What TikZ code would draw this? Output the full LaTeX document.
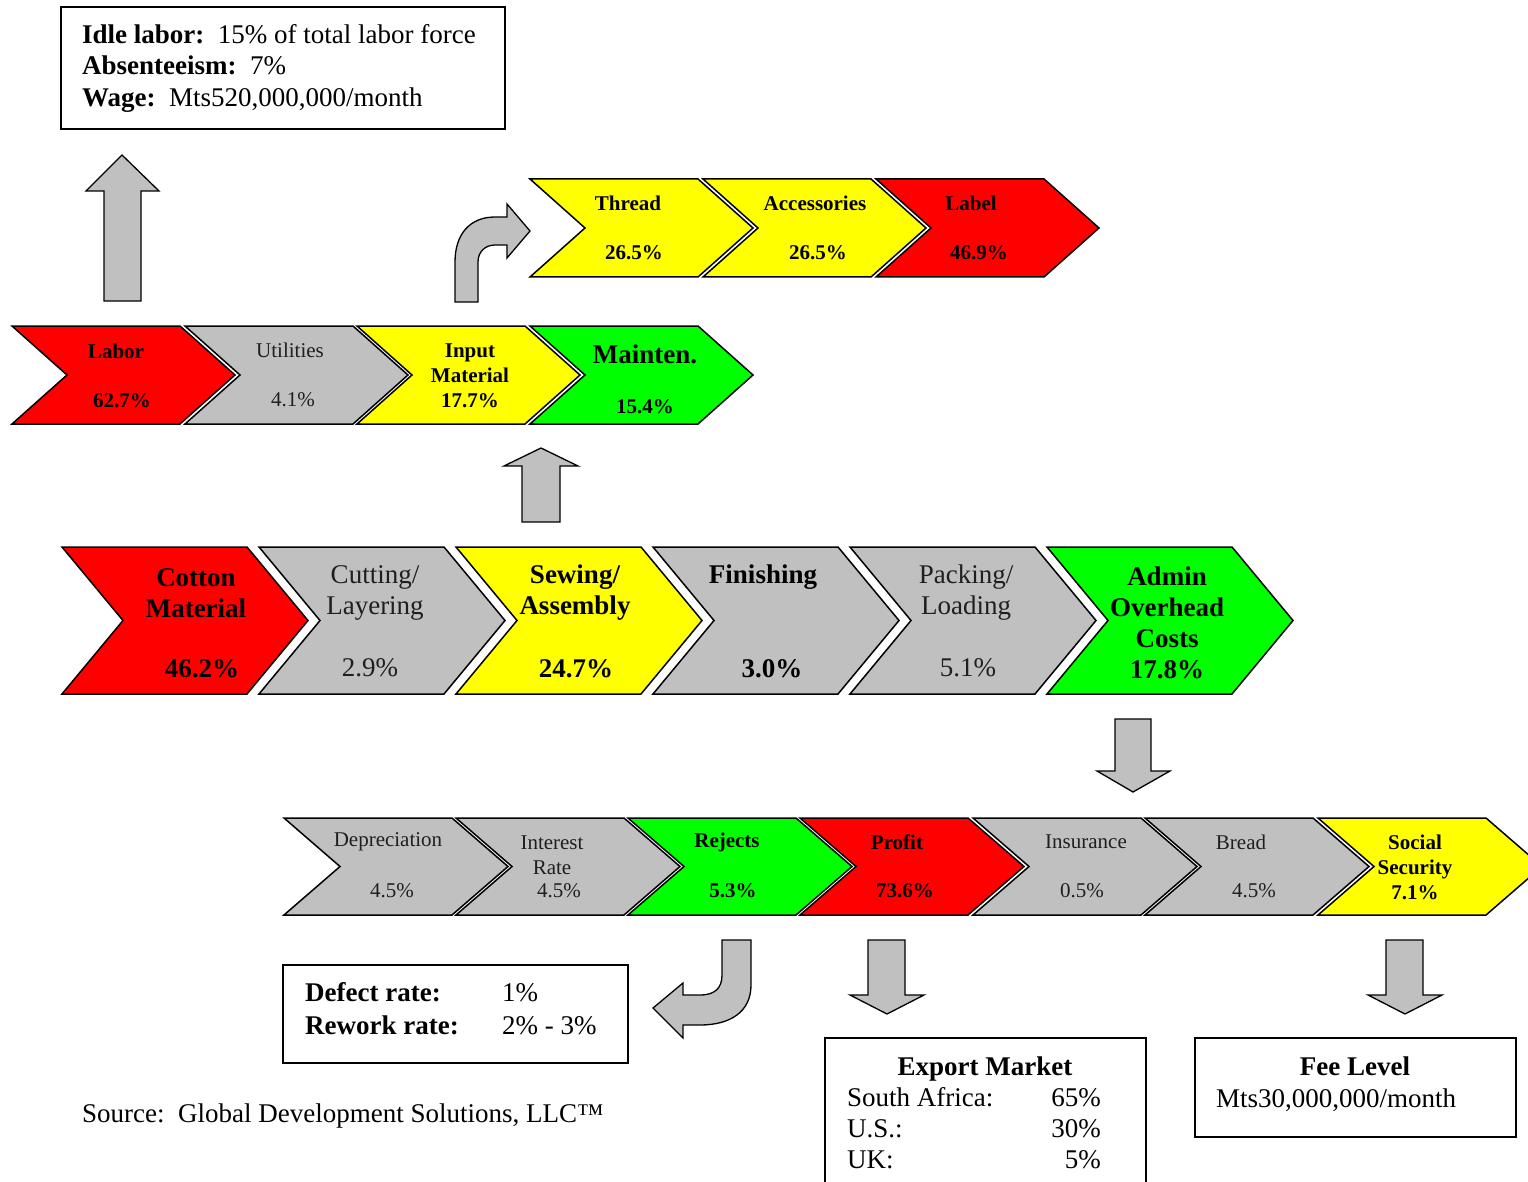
\documentclass[tikz,border=0pt]{standalone}
\usepackage{fontspec}
\setmainfont{Liberation Serif}
\definecolor{cRed}{RGB}{255,0,0}
\definecolor{cGray}{RGB}{192,192,192}
\definecolor{cYel}{RGB}{255,255,0}
\definecolor{cGrn}{RGB}{0,255,0}
\newcommand{\chev}[7]{%
 \draw[chevbox, fill=#7] (#2,#3) -- ++(#4,0) -- ++(#6,#5/2) -- ++(-#6,#5/2) -- ++(-#4,0) -- ++(#6,-#5/2) -- cycle;
 \coordinate (#1) at ({#2+(#4+#6)/2},{#3+#5/2});}
\begin{document}
\begin{tikzpicture}[x=1pt,y=-1pt,
  chevbox/.style={draw=black,line width=1.5pt,line join=miter},
  blk/.style={draw=black,fill=cGray,line width=1.3pt,line join=miter},
  infobox/.style={draw=black,line width=1.3pt},
  sm/.style={font=\fontsize{21}{25}\selectfont,align=center,inner sep=0pt,text=black!88},
  smb/.style={font=\fontsize{21}{25}\selectfont\bfseries,align=center,inner sep=0pt},
  bg/.style={font=\fontsize{27}{31}\selectfont,align=center,inner sep=0pt,text=black!88},
  bgb/.style={font=\fontsize{27}{31}\selectfont\bfseries,align=center,inner sep=0pt},
  txt/.style={font=\fontsize{27}{32}\selectfont,inner sep=0pt}]
\useasboundingbox (0,0) rectangle (1528,1182);
\clip (0,0) rectangle (1528,1182);

% ---------- top info box ----------
\draw[infobox] (61,7) rectangle (505,129);
\node[txt,anchor=base west] (idle) at (82,44) {\textbf{Idle labor:}\ \ 15\% of total labor force};
\node[txt,anchor=base west] (abs) at (82,75) {\textbf{Absenteeism:}\ \ 7\%};
\node[txt,anchor=base west] (wage) at (82,107) {\textbf{Wage:}\ \ Mts520,000,000/month};

% ---------- arrows top ----------
\draw[blk] (104,301) -- (104,191) -- (86,191) -- (122,155) -- (159,191) -- (141,191) -- (141,301) -- cycle;
\draw[blk] (455,302) -- (455,262) .. controls (455,234) and (470,217) .. (495,217) -- (507,217) -- (507,204)
  -- (530,231) -- (507,258) -- (507,245) -- (495,245) .. controls (485,245) and (478,252) .. (478,262) -- (478,302) -- cycle;

% ---------- Thread row ----------
\chev{thread}{530}{179}{168}{98}{55}{cYel}
\chev{acc}{703}{179}{168}{98}{55}{cYel}
\chev{label}{876}{179}{168}{98}{55}{cRed}
\node[smb] (threadT) at (628,203) {Thread};
\node[smb] (threadP) at (634,253) {26.5\%};
\node[smb] (accT) at (815,203) {Accessories};
\node[smb] (accP) at (818,253) {26.5\%};
\node[smb] (labelT) at (971,203) {Label};
\node[smb] (labelP) at (979,253) {46.9\%};

% ---------- Labor row ----------
\chev{labor}{12}{326}{168}{98}{55}{cRed}
\chev{util}{185}{326}{168}{98}{55}{cGray}
\chev{input}{357}{326}{168}{98}{55}{cYel}
\chev{maint}{530}{326}{168}{98}{55}{cGrn}
\node[smb] (laborT) at (116,351) {Labor};
\node[smb] (laborP) at (122,401) {62.7\%};
\node[sm] (utilT) at (290,350) {Utilities};
\node[sm] (utilP) at (293,400) {4.1\%};
\node[smb] (inputT) at (470,376) {Input\\Material\\17.7\%};
\node[bgb] (maintT) at (645,354) {Mainten.};
\node[smb] (maintP) at (645,407) {15.4\%};

% ---------- arrow up from sewing ----------
\draw[blk] (522,522) -- (522,466) -- (504,466) -- (541,448) -- (578,466) -- (560,466) -- (560,522) -- cycle;

% ---------- main row ----------
\chev{cotton}{62}{547}{185}{147}{61}{cRed}
\chev{cut}{259}{547}{185}{147}{61}{cGray}
\chev{sew}{456}{547}{185}{147}{61}{cYel}
\chev{fin}{653}{547}{185}{147}{61}{cGray}
\chev{pack}{850}{547}{185}{147}{61}{cGray}
\chev{admin}{1047}{547}{185}{147}{61}{cGrn}
\node[bgb] (cottonT) at (196,593) {Cotton\\Material};
\node[bgb] (cottonP) at (202,669) {46.2\%};
\node[bg] (cutT) at (375,593) {Cutting/\\Layering};
\node[bg] (cutP) at (370,668) {2.9\%};
\node[bgb] (sewT) at (575,593) {Sewing/\\Assembly};
\node[bgb] (sewP) at (576,669) {24.7\%};
\node[bgb] (finT) at (763,577) {Finishing};
\node[bgb] (finP) at (772,669) {3.0\%};
\node[bg] (packT) at (966,593) {Packing/\\Loading};
\node[bg] (packP) at (968,668) {5.1\%};
\node[bgb] (adminT) at (1167,623) {Admin\\Overhead\\Costs\\17.8\%};

% ---------- arrow down from admin ----------
\draw[blk] (1115,719) -- (1151,719) -- (1151,771) -- (1170,771) -- (1133,792) -- (1097,771) -- (1115,771) -- cycle;

% ---------- bottom row ----------
\chev{dep}{284}{818}{168}{97}{56}{cGray}
\chev{int}{456}{818}{168}{97}{56}{cGray}
\chev{rej}{628}{818}{168}{97}{56}{cGrn}
\chev{prof}{800}{818}{168}{97}{56}{cRed}
\chev{ins}{973}{818}{168}{97}{56}{cGray}
\chev{bread}{1145}{818}{168}{97}{56}{cGray}
\chev{soc}{1318}{818}{168}{97}{56}{cYel}
\node[sm] (depT) at (388,842) {Depreciation};
\node[sm] (depP) at (392,891) {4.5\%};
\node[sm] (intT) at (552,855) {Interest\\Rate};
\node[sm] (intP) at (559,891) {4.5\%};
\node[smb] (rejT) at (727,842) {Rejects};
\node[smb] (rejP) at (733,891) {5.3\%};
\node[smb] (profT) at (897,842) {Profit};
\node[smb] (profP) at (905,891) {73.6\%};
\node[sm] (insT) at (1086,842) {Insurance};
\node[sm] (insP) at (1082,891) {0.5\%};
\node[sm] (breadT) at (1241,842) {Bread};
\node[sm] (breadP) at (1254,891) {4.5\%};
\node[smb] (socT) at (1415,867) {Social\\Security\\7.1\%};

% ---------- arrows below bottom row ----------
\draw[blk] (722,940) -- (751,940) -- (751,985) .. controls (751,1012) and (730,1025) .. (700,1025) -- (683,1025)
  -- (683,1038) -- (653,1008) -- (683,983) -- (683,995) -- (700,995) .. controls (715,995) and (722,988) .. (722,975) -- cycle;
\draw[blk] (868,940) -- (905,940) -- (905,995) -- (924,995) -- (887,1014) -- (850,995) -- (868,995) -- cycle;
\draw[blk] (1386,940) -- (1423,940) -- (1423,995) -- (1442,995) -- (1405,1014) -- (1368,995) -- (1386,995) -- cycle;

% ---------- defect box ----------
\draw[infobox] (283,965) rectangle (628,1063);
\node[txt,anchor=base west] (defL) at (305,1001) {\textbf{Defect rate:}};
\node[txt,anchor=base west] (defV) at (502,1001) {1\%};
\node[txt,anchor=base west] (rewL) at (305,1034) {\textbf{Rework rate:}};
\node[txt,anchor=base west] (rewV) at (502,1034) {2\% - 3\%};

% ---------- source ----------
\node[txt,anchor=base west] (src) at (82,1122) {Source:\ \ Global Development Solutions, LLC™};

% ---------- export box ----------
\draw[infobox] (825,1038) rectangle (1146,1200);
\node[txt,anchor=base] (expT) at (985,1075) {\textbf{Export Market}};
\node[txt,anchor=base west] (saL) at (847,1106) {South Africa:};
\node[txt,anchor=base east] (saV) at (1101,1106) {65\%};
\node[txt,anchor=base west] (usL) at (847,1137) {U.S.:};
\node[txt,anchor=base east] (usV) at (1101,1137) {30\%};
\node[txt,anchor=base west] (ukL) at (847,1168) {UK:};
\node[txt,anchor=base east] (ukV) at (1101,1168) {5\%};

% ---------- fee box ----------
\draw[infobox] (1195,1038) rectangle (1516,1137);
\node[txt,anchor=base] (feeT) at (1355,1075) {\textbf{Fee Level}};
\node[txt,anchor=base west] (feeV) at (1216,1107) {Mts30,000,000/month};
\end{tikzpicture}
\end{document}
